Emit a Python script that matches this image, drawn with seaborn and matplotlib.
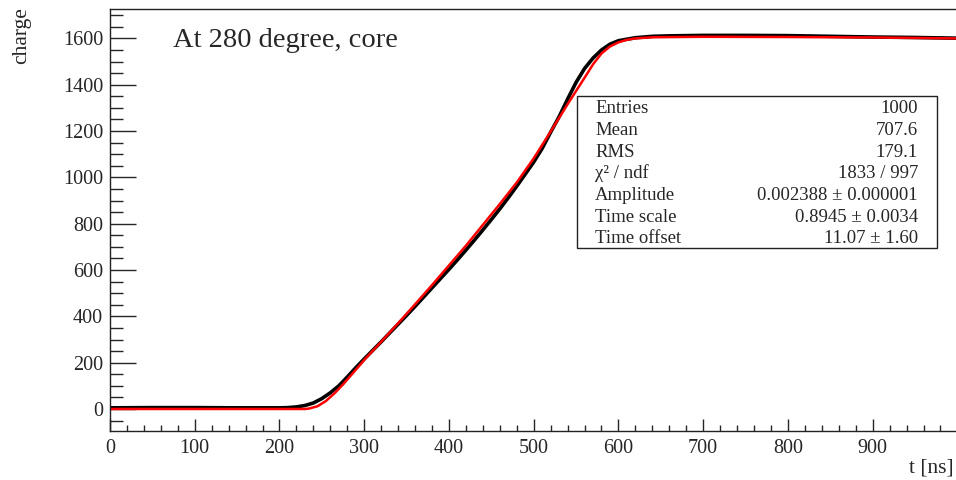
import matplotlib
matplotlib.use("Agg")
import matplotlib.pyplot as plt
import seaborn as sns
import numpy as np
from matplotlib.patches import Rectangle

# Measured cumulative charge (histogram contents sampled along t)
t_data = [0, 50, 100, 150, 200, 210, 220, 230, 240, 250, 260, 270, 280, 290,
          300, 310, 320, 330, 340, 350, 360, 370, 380, 390, 400, 410, 420,
          430, 440, 450, 460, 470, 480, 490, 500, 510, 520, 530, 540, 550,
          560, 570, 580, 590, 600, 620, 640, 660, 700, 750, 800, 850, 900,
          950, 1000]
charge_data = [5, 6, 6, 5, 5, 6, 9, 15, 26, 45, 70, 100, 138, 178,
               216, 253, 290, 328, 366, 404, 443, 483, 523, 563, 603, 644, 686,
               729, 773, 818, 864, 912, 962, 1014, 1066, 1125, 1195, 1262, 1338, 1410,
               1470, 1515, 1550, 1575, 1590, 1603, 1609, 1611, 1613, 1613, 1612, 1609, 1606,
               1604, 1601]

# Fitted response curve
t_fit = [0, 100, 200, 230, 235, 245, 255, 265, 275, 285, 295, 300, 320, 340,
         360, 380, 400, 420, 440, 460, 480, 500, 520, 540, 560, 570, 580,
         590, 600, 610, 620, 640, 700, 800, 900, 1000]
charge_fit = [0, 0, 0, 0, 2, 12, 35, 68, 106, 148, 190, 212, 290, 370,
              452, 535, 620, 705, 795, 885, 978, 1082, 1198, 1316, 1430, 1488, 1535,
              1565, 1583, 1594, 1600, 1605, 1607, 1606, 1604, 1600]

stat_names = ["Entries", "Mean", "RMS", "χ² / ndf", "Amplitude", "Time scale", "Time offset"]
stat_values = ["1000", "707.6", "179.1", "1833 / 997", "0.002388 ± 0.000001",
               "0.8945 ± 0.0034", "11.07 ± 1.60"]

x_major = [0, 100, 200, 300, 400, 500, 600, 700, 800, 900]
y_major = [0, 200, 400, 600, 800, 1000, 1200, 1400, 1600]

sns.set_style("ticks")
plt.rcParams["font.family"] = ["Liberation Serif", "DejaVu Serif"]

W, H = 956, 480
fig = plt.figure(figsize=(W / 100, H / 100), dpi=100)
ax = fig.add_axes([110 / W, (H - 431) / H, 847.4 / W, 422 / H])

sns.lineplot(x=t_data, y=charge_data, ax=ax, color="black", lw=2.6,
             estimator=None, sort=False)
sns.lineplot(x=t_fit, y=charge_fit, ax=ax, color="#ff0000", lw=1.8,
             estimator=None, sort=False)

ax.set_xlim(0, 1000)
ax.set_ylim(-95, 1727)
ax.set_xticks(x_major)
ax.set_xticks(np.arange(0, 1001, 20), minor=True)
ax.set_yticks(y_major)
ax.set_yticks(np.arange(-50, 1727, 50), minor=True)
ax.set_xlabel("")
ax.set_ylabel("")

for side in ["top", "right", "left", "bottom"]:
    ax.spines[side].set_visible(True)
    ax.spines[side].set_linewidth(1.0)
    ax.spines[side].set_color("#222222")

ax.tick_params(axis="x", which="major", direction="in", length=8.6, width=1.0,
               labelsize=14.5, pad=6, top=False)
ax.tick_params(axis="x", which="minor", direction="in", length=4.3, width=1.0, top=False)
ax.tick_params(axis="y", which="major", direction="in", length=18.5, width=1.0,
               labelsize=14.5, pad=5, right=False)
ax.tick_params(axis="y", which="minor", direction="in", length=9.4, width=1.0, right=False)


def px(x, y):
    return x / W, (H - y) / H


fig.text(*px(173, 47), "At 280 degree, core", fontsize=20.5, ha="left", va="baseline")
fig.text(*px(22, 7), "charge", fontsize=15.5, rotation=90, ha="center", va="top")
fig.text(*px(954, 472), "t [ns]", fontsize=15.5, ha="right", va="baseline")

# Fit statistics box
bx0, by0, bx1, by1 = 577, 96, 937, 248
fig.patches.append(Rectangle(px(bx0, by1), (bx1 - bx0) / W, (by1 - by0) / H,
                             transform=fig.transFigure, facecolor="white",
                             edgecolor="#222222", lw=1.0, zorder=5))
for i, (name, val) in enumerate(zip(stat_names, stat_values)):
    yb = 113.3 + i * 21.67
    fig.text(*px(595, yb), name, fontsize=13.5, ha="left", va="baseline", zorder=6)
    fig.text(*px(918, yb), val, fontsize=13.5, ha="right", va="baseline", zorder=6)

fig.savefig("out.png", dpi=100)
